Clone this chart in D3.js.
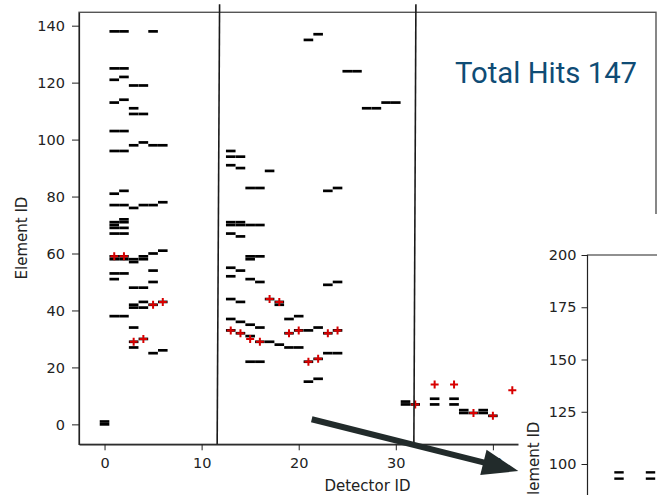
<!DOCTYPE html>
<html>
<head>
<meta charset="utf-8">
<script src="https://cdn.jsdelivr.net/npm/d3@7"></script>
<style>
  body { margin: 0; background: #fff; }
  svg { display: block; }
</style>
</head>
<body>
<svg width="657" height="495"></svg>
<script>
// hits as [detector id, element id]
const hitsStation1 = [
  [0, 0], [0, 1],
  [1, 138], [2, 138], [5, 138],
  [1, 125], [2, 125], [1, 121], [2, 122], [3, 119], [4, 119],
  [1, 113], [2, 114], [3, 111], [3, 109], [4, 109],
  [1, 103], [2, 103], [3, 98], [4, 99], [5, 98], [6, 98], [1, 96], [2, 96],
  [1, 81], [2, 82], [1, 77], [2, 77], [3, 76], [4, 77], [5, 77], [6, 78],
  [1, 71], [1, 70], [2, 72], [2, 71], [1, 69], [2, 69], [1, 67], [2, 67],
  [1, 59], [2, 59], [1, 58], [2, 58], [3, 58], [3, 57], [4, 59], [4, 58], [5, 60], [6, 61],
  [5, 54], [1, 53], [2, 53], [1, 51], [5, 50], [3, 48], [4, 48],
  [3, 42], [3, 41], [4, 43], [4, 41], [5, 42], [6, 43],
  [1, 38], [2, 38], [3, 34], [3, 29], [3, 27], [4, 30], [5, 25], [6, 26]
];
const hitsStation2 = [
  [13, 96], [13, 94], [14, 94], [13, 91], [14, 90], [17, 89],
  [15, 83], [16, 83], [23, 82], [24, 83],
  [13, 71], [13, 70], [14, 71], [14, 70], [15, 70], [16, 70],
  [13, 67], [14, 66], [15, 59], [15, 58], [16, 59],
  [13, 55], [14, 54], [13, 52], [15, 51], [16, 50], [23, 49], [24, 50],
  [13, 44], [14, 43], [17, 44], [18, 43], [18, 42],
  [19, 37], [20, 38], [13, 37], [14, 36], [15, 35], [16, 34],
  [13, 33], [14, 32], [15, 31], [16, 29], [17, 29],
  [18, 28], [19, 27], [20, 27], [19, 32], [20, 33],
  [21, 33], [22, 34], [23, 32], [24, 33], [23, 25], [24, 25],
  [15, 22], [16, 22], [21, 22], [22, 23], [21, 15], [22, 16],
  [21, 135], [22, 137], [25, 124], [26, 124],
  [27, 111], [28, 111], [29, 113], [30, 113]
];
const hitsStation3 = [
  [31, 8], [31, 7], [32, 7], [34, 9], [34, 7], [36, 9], [36, 7],
  [37, 5], [37, 4], [38, 4], [39, 5], [39, 4], [40, 3]
];
const triggeredHits = [
  [1, 59], [2, 59], [5, 42], [6, 43], [3, 29], [4, 30],
  [13, 33], [14, 32], [15, 30], [16, 29], [17, 44], [18, 43],
  [19, 32], [20, 33], [23, 32], [24, 33], [21, 22], [22, 23],
  [32, 7], [34, 14], [36, 14], [38, 4], [40, 3], [42, 12]
];
const stationBounds = [[11.85, 11.6], [32.07, 31.86]]; // top, bottom detector id
const xTicks = [0, 10, 20, 30, 40, 50];
const yTicks = [0, 20, 40, 60, 80, 100, 120, 140];
const totalHits = 147;

// inset (zoomed view)
const insetHits = [[1, 96], [1, 93], [2, 96], [2, 93]];
const insetTicks = [100, 125, 150, 175, 200];

const svg = d3.select("svg");
const font = "DejaVu Sans, sans-serif";

const x = d3.scaleLinear().domain([-2.63, 56.8]).range([79, 656]);
const y = d3.scaleLinear().domain([-7, 144.7]).range([444.3, 12.3]);

// frame
svg.append("rect")
  .attr("x", 79).attr("y", 12.3)
  .attr("width", 656 - 79).attr("height", 444.3 - 12.3)
  .attr("fill", "none").attr("stroke", "#555").attr("stroke-width", 1.4);

const gx = svg.append("g")
  .attr("transform", "translate(0,444.3)")
  .call(d3.axisBottom(x).tickValues(xTicks).tickSize(6).tickPadding(7).tickSizeOuter(0));
const gy = svg.append("g")
  .attr("transform", "translate(79,0)")
  .call(d3.axisLeft(y).tickValues(yTicks).tickSize(7).tickPadding(7).tickSizeOuter(0));

[gx, gy].forEach(g => {
  g.select(".domain").attr("stroke", "#222").attr("stroke-width", 1.2);
  g.selectAll(".tick line").attr("stroke", "#222").attr("stroke-width", 1);
  g.selectAll(".tick text").attr("fill", "#222")
    .style("font-family", font).style("font-size", "14.5px");
});

svg.append("text")
  .attr("x", 367.5).attr("y", 490.5)
  .attr("text-anchor", "middle")
  .style("font-family", font).style("font-size", "15px").attr("fill", "#222")
  .text("Detector ID");

svg.append("text")
  .attr("transform", "translate(27,238) rotate(-90)")
  .attr("text-anchor", "middle")
  .style("font-family", font).style("font-size", "15px").attr("fill", "#222")
  .text("Element ID");

// hits
const allHits = hitsStation1.concat(hitsStation2, hitsStation3);
svg.append("g")
  .selectAll("line")
  .data(allHits)
  .join("line")
  .attr("x1", d => x(d[0]) - 4.8)
  .attr("x2", d => x(d[0]) + 4.8)
  .attr("y1", d => y(d[1]))
  .attr("y2", d => y(d[1]))
  .attr("stroke", "#000")
  .attr("stroke-width", 2.7);

svg.append("g")
  .selectAll("path")
  .data(triggeredHits)
  .join("path")
  .attr("transform", d => `translate(${x(d[0])},${y(d[1])})`)
  .attr("d", "M-4,0H4M0,-4V4")
  .attr("stroke", "#d80000")
  .attr("stroke-width", 2);

// station boundaries
svg.append("g")
  .selectAll("line")
  .data(stationBounds)
  .join("line")
  .attr("x1", d => x(d[0])).attr("y1", y(147.5))
  .attr("x2", d => x(d[1])).attr("y2", y(-7))
  .attr("stroke", "#1a1a1a")
  .attr("stroke-width", 1.6);

svg.append("text")
  .attr("x", 455).attr("y", 83.3)
  .style("font-family", "Roboto, sans-serif").style("font-size", "29.3px")
  .attr("fill", "#0f4c75")
  .text("Total Hits " + totalHits);

// inset panel
svg.append("rect")
  .attr("x", 518.5).attr("y", 214)
  .attr("width", 657 - 518.5).attr("height", 495 - 214)
  .attr("fill", "#fff");

const ix = d3.scaleLinear().domain([0, 4]).range([587.5, 713.5]);
const iy = d3.scaleLinear().domain([80, 200]).range([505.8, 255]);

const gi = svg.append("g")
  .attr("transform", "translate(587.5,0)")
  .call(d3.axisLeft(iy).tickValues(insetTicks).tickSize(6).tickPadding(5).tickSizeOuter(0));
gi.select(".domain").remove();
gi.selectAll(".tick line").attr("stroke", "#222");
gi.selectAll(".tick text").attr("fill", "#222")
  .style("font-family", font).style("font-size", "14.5px");

svg.append("path")
  .attr("d", `M587.5,495V${iy(200)}H657`)
  .attr("fill", "none").attr("stroke", "#222").attr("stroke-width", 1.2);

// label of the zoomed view runs past the bottom edge, as in the original
svg.append("text")
  .attr("transform", "translate(538.5,463) rotate(-90)")
  .attr("text-anchor", "middle")
  .style("font-family", font).style("font-size", "15px").attr("fill", "#222")
  .text("Element ID");

svg.append("g")
  .selectAll("line")
  .data(insetHits)
  .join("line")
  .attr("x1", d => ix(d[0]) - 4.7)
  .attr("x2", d => ix(d[0]) + 4.7)
  .attr("y1", d => iy(d[1]))
  .attr("y2", d => iy(d[1]))
  .attr("stroke", "#000")
  .attr("stroke-width", 2.4);

// arrow pointing to the zoomed view
const arrowFrom = [21.34, 1.8], arrowTo = [42.62, -16.4];
const ax0 = x(arrowFrom[0]), ay0 = y(arrowFrom[1]);
const ax1 = x(arrowTo[0]), ay1 = y(arrowTo[1]);
const len = Math.hypot(ax1 - ax0, ay1 - ay0);
const ux = (ax1 - ax0) / len, uy = (ay1 - ay0) / len;
const headLen = 36, headW = 13, shaftW = 3;
const bx = ax1 - ux * headLen, by = ay1 - uy * headLen;
const arrowPts = [
  [ax0 - uy * shaftW, ay0 + ux * shaftW],
  [bx - uy * shaftW, by + ux * shaftW],
  [bx - uy * headW, by + ux * headW],
  [ax1, ay1],
  [bx + uy * headW, by - ux * headW],
  [bx + uy * shaftW, by - ux * shaftW],
  [ax0 + uy * shaftW, ay0 - ux * shaftW]
];
svg.append("path")
  .attr("d", d3.line()(arrowPts) + "Z")
  .attr("fill", "#222b2b");
</script>
</body>
</html>
